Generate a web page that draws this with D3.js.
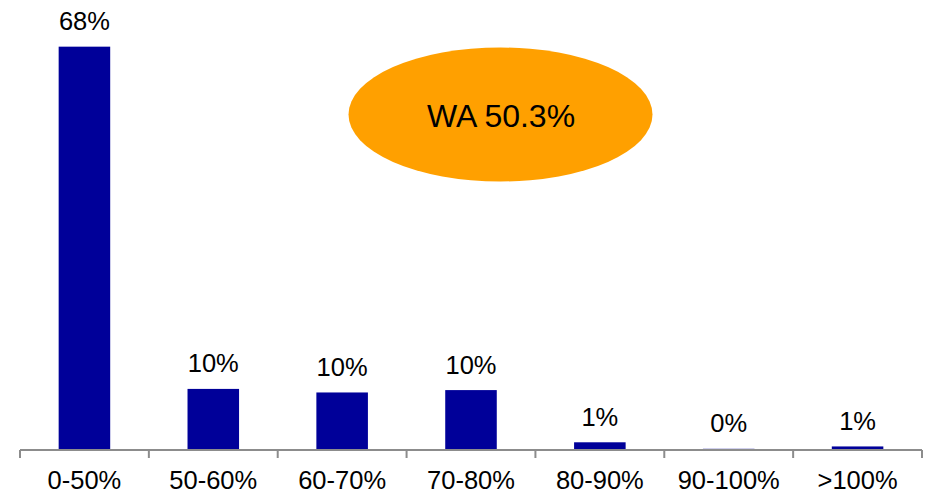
<!DOCTYPE html>
<html><head><meta charset="utf-8">
<script src="https://cdn.jsdelivr.net/npm/d3@7"></script>
<style>body{margin:0;background:#fff}svg{display:block}text{font-family:"Liberation Sans",Arial,sans-serif}</style>
</head><body>
<svg id="c" width="925" height="494"></svg>
<script>
const categories = ["0-50%","50-60%","60-70%","70-80%","80-90%","90-100%",">100%"];
const shares = [0.680, 0.103, 0.097, 0.101, 0.013, 0.002, 0.006];
const calloutText = "WA 50.3%";

const svg = d3.select("#c");
const baseY = 450, left = 20, right = 922;
const x = d3.scaleBand().domain(categories).range([left, right]).padding(0);
const y = d3.scaleLinear().domain([0, 0.7]).range([baseY, baseY - 415.2]);
const bw = x.bandwidth() * 0.4;
const fmt = d3.format(".0%");

// bars
svg.selectAll("rect.bar").data(categories).enter().append("rect")
  .attr("class","bar")
  .attr("x", d => x(d) + x.bandwidth()/2 - bw/2)
  .attr("width", bw)
  .attr("y", (d,i) => y(shares[i]))
  .attr("height", (d,i) => baseY - y(shares[i]))
  .attr("fill", "#000099");

// value labels
svg.selectAll("text.val").data(categories).enter().append("text")
  .attr("class","val")
  .attr("x", d => x(d) + x.bandwidth()/2)
  .attr("y", (d,i) => y(shares[i]) - 16.5)
  .attr("text-anchor","middle")
  .attr("font-size", 25.5)
  .attr("fill","#000")
  .text((d,i) => fmt(shares[i]));

// axis
const axis = d3.axisBottom(x).tickSize(0).tickPadding(0);
const g = svg.append("g").attr("transform", `translate(0,${baseY})`).call(axis);
g.select(".domain").remove();
g.selectAll(".tick text").remove();
g.append("line").attr("x1", left).attr("x2", right).attr("y1", 0).attr("y2", 0)
  .attr("stroke","#8c8c8c").attr("stroke-width",2);
const bounds = categories.map(d => x(d)).concat([x(categories[categories.length-1]) + x.bandwidth()]);
g.selectAll("line.tk").data(bounds).enter().append("line")
  .attr("class","tk")
  .attr("x1", d => d).attr("x2", d => d).attr("y1", 0).attr("y2", 8)
  .attr("stroke","#8c8c8c").attr("stroke-width",2);
g.selectAll("text.cat").data(categories).enter().append("text")
  .attr("class","cat")
  .attr("x", d => x(d) + x.bandwidth()/2)
  .attr("y", 38.5)
  .attr("text-anchor","middle")
  .attr("font-size", 25.5)
  .attr("fill","#000")
  .text(d => d);

// callout ellipse
svg.append("ellipse").attr("cx", 500.5).attr("cy", 114.5).attr("rx", 152).attr("ry", 67)
  .attr("fill","#FFA000");
svg.append("text").attr("x", 501).attr("y", 127).attr("text-anchor","middle")
  .attr("font-size", 32).attr("fill","#000").text(calloutText);
</script>
</body></html>
